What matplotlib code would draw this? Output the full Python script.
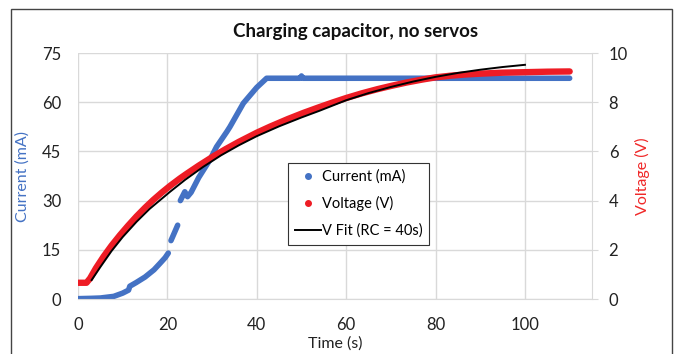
import numpy as np
import matplotlib.pyplot as plt
from matplotlib.lines import Line2D
from matplotlib.patches import Rectangle

plt.rcParams['font.family'] = ['Lato', 'DejaVu Sans']

# Current (mA) vs time (s); NaN marks gaps in the recorded data
current_t = [0, 3, 5, 8, 10, 11.3, 11.6, 13, 15, 17, 18.3, 19.5, 20.2, 20.5,
             20.8, 21.6, 22.3, 22.6,
             22.9, 23.9, 24.5, 25.3, 27, 29.5, 31, 33.3, 34, 37, 40, 42.2,
             49.7, 50, 50.3, 60, 80, 100, 110]
current_ma = [0.1, 0.2, 0.3, 0.8, 1.8, 2.7, 3.9, 5.0, 6.7, 8.9, 10.8, 12.6, 14.0, np.nan,
              17.8, 20.3, 22.5, np.nan,
              30.0, 32.7, 31.2, 32.5, 37.0, 42.4, 46.4, 51.0, 52.5, 59.7, 64.5, 67.3,
              67.3, 68.0, 67.3, 67.3, 67.3, 67.3, 67.3]

# Voltage (V) vs time (s)
voltage_t = [0, 1.9, 2.7, 4, 5.7, 7.5, 9.4, 11.2, 13.1, 15, 16.8, 18.7, 20.6, 22.8,
             24.3, 27, 30.3, 33, 36, 40, 43, 47, 50.5, 54, 57, 60, 63.5, 67, 70,
             73.5, 77, 80, 83.5, 87, 90, 95, 100, 105, 110]
voltage_v = [0.66, 0.66, 0.84, 1.25, 1.72, 2.17, 2.6, 2.98, 3.36, 3.71, 4.02, 4.32, 4.6,
             4.9, 5.09, 5.42, 5.8, 6.09, 6.39, 6.76, 7.01, 7.32, 7.57, 7.8, 7.99, 8.17,
             8.36, 8.53, 8.66, 8.8, 8.92, 9.01, 9.08, 9.13, 9.16, 9.2, 9.22, 9.24, 9.25]

# RC fit curve (RC = 40 s)
fit_t = [3.05, 5, 7.5, 10, 13.1, 16, 20.6, 24, 28, 32, 36, 40, 45, 50, 54, 60, 65, 70,
         75, 80, 85, 90, 95, 100]
fit_v = [0.77, 1.3, 1.95, 2.52, 3.14, 3.66, 4.36, 4.85, 5.37, 5.84, 6.25, 6.62, 7.02,
         7.38, 7.65, 8.08, 8.37, 8.62, 8.84, 9.03, 9.19, 9.32, 9.43, 9.52]

blue = '#4472C4'
red = '#EE1C25'
grid_c = '#D9D9D9'
W, H = 679, 354

fig = plt.figure(figsize=(W / 100, H / 100), dpi=100)
ax = fig.add_axes([78 / W, 1 - 299 / H, (592 - 78) / W, (299 - 53) / H])
ax2 = ax.twinx()

ax.plot(current_t, current_ma, color=blue, lw=4.0, solid_capstyle='round',
        solid_joinstyle='round', zorder=2)
ax2.plot(voltage_t, voltage_v, color=red, lw=4.6, solid_capstyle='round',
         solid_joinstyle='round', zorder=2)
ax2.plot(fit_t, fit_v, color='black', lw=1.4, zorder=3)

ax.set_xlim(0, 115)
ax.set_ylim(0, 75)
ax2.set_ylim(0, 10)
ax.set_xticks([0, 20, 40, 60, 80, 100])
ax.set_yticks([0, 15, 30, 45, 60, 75])
ax2.set_yticks([0, 2, 4, 6, 8, 10])

ax.grid(True, color=grid_c, lw=1.0)
ax.set_axisbelow(True)
for s in ['top', 'left', 'right']:
    ax.spines[s].set_visible(False)
ax.spines['bottom'].set_color(grid_c)
for s in ['top', 'left', 'bottom']:
    ax2.spines[s].set_visible(False)
ax2.spines['right'].set_color(grid_c)

ax.tick_params(axis='both', length=0, labelsize=12, labelcolor='#222222')
ax.tick_params(axis='y', pad=12)
ax.tick_params(axis='x', pad=13)
ax2.tick_params(axis='y', length=4, color=grid_c, pad=8, labelsize=12, labelcolor='#222222')

ax.set_ylabel('Current (mA)', color=blue, fontsize=11.5)
ax2.set_ylabel('Voltage (V)', color='#F02828', fontsize=11.5)
ax.yaxis.set_label_coords((30 - 78) / (592 - 78), 0.5)
ax2.yaxis.set_label_coords((635 - 78) / (592 - 78), 0.5)
ax.set_xlabel('Time (s)', fontsize=11.5, color='#222222')
ax.xaxis.set_label_coords(0.5, -(336 - 299) / (299 - 53))

fig.text(356 / W, 1 - 37 / H, 'Charging capacitor, no servos', fontsize=13.5,
         fontweight='bold', ha='center', va='baseline', color='#111111')

handles = [
    Line2D([], [], color=blue, marker='o', ls='none', markersize=4),
    Line2D([], [], color=red, marker='o', ls='none', markersize=4),
    Line2D([], [], color='black', lw=1.4),
]
leg = fig.legend(handles, ['Current (mA)', 'Voltage (V)', 'V Fit (RC = 40s)'],
                 loc='upper left', bbox_to_anchor=(288 / W, 1 - 163 / H),
                 fontsize=10.5, frameon=True, fancybox=False, framealpha=1,
                 edgecolor='#333333', handlelength=1.8, handletextpad=0.05,
                 labelspacing=0.85, borderpad=0.45, borderaxespad=0)
leg.get_frame().set_linewidth(0.8)

fig.patches.append(Rectangle((11 / W, -0.1), (672 - 11) / W, 1.1 - 9 / H,
                             transform=fig.transFigure, fill=False,
                             edgecolor='#444444', lw=1.0))

fig.savefig('out.png', dpi=100)
